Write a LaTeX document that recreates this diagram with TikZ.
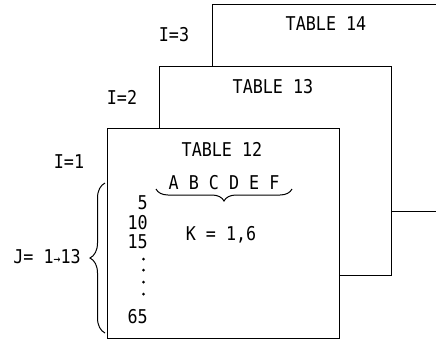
\documentclass[tikz,border=0pt]{standalone}
\usepackage{fontspec}
\newfontfamily\lpfont[FakeStretch=0.88]{DejaVu Sans Mono}
\usetikzlibrary{decorations.pathreplacing}
\begin{document}
\begin{tikzpicture}[x=1pt,y=-1pt,
  frame/.style={line width=1pt},
  lbl/.style={font=\lpfont\fontsize{19}{19}\selectfont, inner sep=0pt},
  brc/.style={line width=1pt, decorate, decoration={brace, amplitude=#1}}]
\useasboundingbox (0,0) rectangle (436,341);
% corner coordinates
\coordinate (t12nw) at (107,128);
\coordinate (t12se) at (339,338);
\coordinate (t13sw) at (159,128);
\coordinate (t13nw) at (159,66);
\coordinate (t13ne) at (391,66);
\coordinate (t13se) at (391,275);
\coordinate (t13s) at (339,275);
\coordinate (t14sw) at (212,66);
\coordinate (t14nw) at (212,4);
\coordinate (t14ne) at (436,4);
\coordinate (t14s) at (391,211);
\coordinate (t14e) at (436,211);
% table frames
\draw[frame] (t14sw) -- (t14nw) -- (t14ne);
\draw[frame] (t14s) -- (t14e);
\draw[frame] (t13sw) -- (t13nw) -- (t13ne) -- (t13se) -- (t13s);
\draw[frame] (t12nw) rectangle (t12se);
% titles
\node[lbl] (title14) at (326,24) {TABLE 14};
\node[lbl] (title13) at (273,87) {TABLE 13};
\node[lbl] (title12) at (222,149) {TABLE 12};
\node[lbl] (i3) at (174,35) {I=3};
\node[lbl] (i2) at (122,97) {I=2};
\node[lbl] (i1) at (69,162) {I=1};
% column letters and brace
\node[lbl] (cols) at (224,183) {A B C D E F};
\coordinate (bra) at (156,189);
\coordinate (brb) at (292,189);
\draw[brc=12pt] (brb) -- (bra);
\node[lbl] (kval) at (221,235) {K = 1,6};
% row numbers
\node[lbl, anchor=east] (r5) at (148,203) {5};
\node[lbl, anchor=east] (r10) at (148,223) {10};
\node[lbl, anchor=east] (r15) at (148,242) {15};
\foreach \yy/\nm in {259/d1,270/d2,282/d3,294/d4}
  \fill (143.5,\yy) circle (1.5pt) coordinate (\nm);
\node[lbl, anchor=east] (r65) at (148,317) {65};
% left brace
\coordinate (lba) at (105,183);
\coordinate (lbb) at (105,333);
\draw[brc=15pt] (lbb) -- (lba);
\node[lbl] (jlab) at (47,257) {J= 1{\fontsize{13}{13}\selectfont →}13};
\end{tikzpicture}
\end{document}
